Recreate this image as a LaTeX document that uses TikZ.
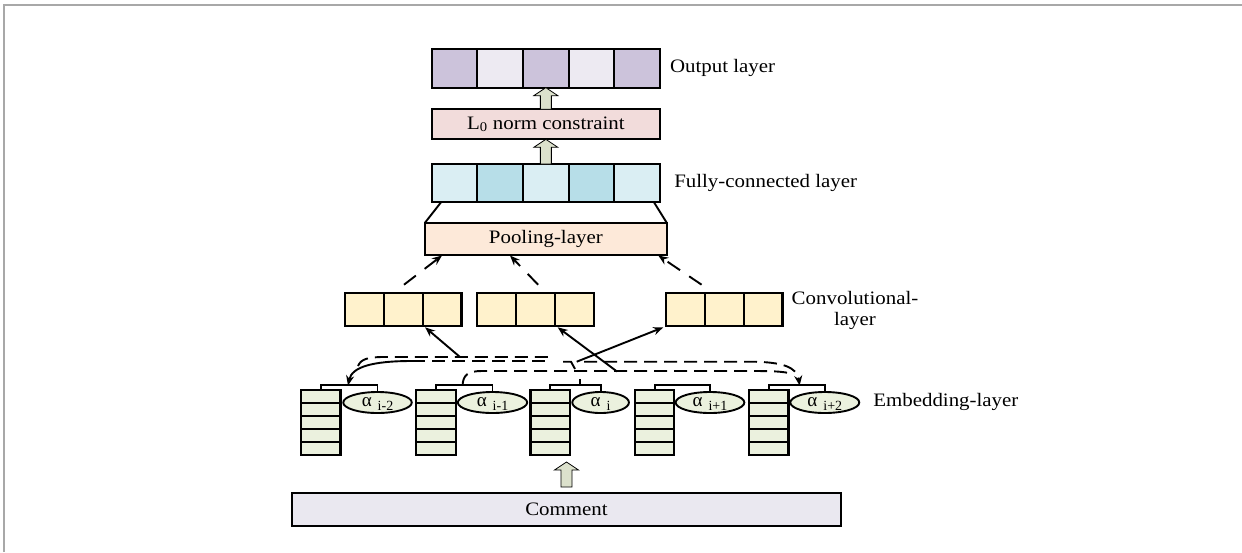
\documentclass[tikz,border=0pt]{standalone}
\usepackage{fontspec}
\setmainfont{Liberation Serif}
\usetikzlibrary{arrows.meta,calc,shapes.geometric}
\definecolor{outA}{HTML}{CCC3DB}
\definecolor{outB}{HTML}{EDEAF2}
\definecolor{lzero}{HTML}{F2DCDB}
\definecolor{fcA}{HTML}{DAEEF3}
\definecolor{fcB}{HTML}{B7DEE8}
\definecolor{poolc}{HTML}{FDE9D9}
\definecolor{convc}{HTML}{FFF2CC}
\definecolor{embc}{HTML}{EBF1DE}
\definecolor{harr}{HTML}{DCE1CC}
\definecolor{cmtc}{HTML}{EAE8F0}
\definecolor{framec}{HTML}{A8A8A8}
\newcommand{\sx}[1]{\scalebox{1.1}[1]{#1}}
\newcommand{\alab}[1]{{\fontsize{19}{19}\selectfont α}\hspace{6pt}\raisebox{-4pt}[0pt][0pt]{\fontsize{14}{14}\selectfont #1}}
\newcommand{\hollowarrow}[2]{%
  \draw[line width=0.8pt,fill=harr] let \p1=#1, \p2=#2 in
   (\x1-5.5pt,\y2) -- (\x1-5.5pt,\y1-8pt) -- (\x1-12pt,\y1-8pt) -- (\x1,\y1)
   -- (\x1+12pt,\y1-8pt) -- (\x1+5.5pt,\y1-8pt) -- (\x1+5.5pt,\y2) -- cycle;}
\begin{document}
\begin{tikzpicture}[x=1pt,y=-1pt,
  every node/.style={font=\fontsize{19}{21}\selectfont},
  box/.style={draw,line width=2.2pt,inner sep=0pt,outer sep=0pt},
  lbl/.style={inner sep=0pt,outer sep=0pt},
  ell/.style={draw,ellipse,line width=1.9pt,fill=embc,inner sep=0pt,minimum height=21pt,text height=7pt,text depth=0pt},
  con/.style={line width=1.9pt},
  dsh/.style={line width=1.9pt,dash pattern=on 13pt off 7pt},
  tip/.style={-{Stealth[length=10pt,width=8pt]}},
]
\useasboundingbox (0,0) rectangle (1242,552);
\draw[framec,line width=1.5pt] (4,552) -- (4,5) -- (1242,5);

% output layer
\foreach \k/\c in {1/outA,2/outB,3/outA,4/outB,5/outA}
  \node[box,fill=\c,minimum width=45.66pt,minimum height=38.7pt] (o\k) at ({431.7+45.66*(\k-0.5)},68.3) {};
\node[lbl,anchor=west] (olab) at (670,68.3) {\sx{Output layer}};

% L0
\node[box,fill=lzero,minimum width=228.3pt,minimum height=30pt] (lz) at (545.85,124.3) {\sx{L\textsubscript{0} norm constraint}};

% fully connected
\foreach \k/\c in {1/fcA,2/fcB,3/fcA,4/fcB,5/fcA}
  \node[box,fill=\c,minimum width=45.66pt,minimum height=38.3pt] (f\k) at ({431.7+45.66*(\k-0.5)},183.15) {};
\node[lbl,anchor=west] (flab) at (674.3,183.2) {\sx{Fully-connected layer}};

% pooling
\node[box,fill=poolc,minimum width=241.7pt,minimum height=32.3pt] (pl) at (545.85,238.85) {\sx{Pooling-layer}};
\draw[con] ($(f1.south west)+(9.3,0)$) -- (pl.north west);
\draw[con] ($(f5.south east)+(-6,0)$) -- (pl.north east);

% hollow arrows
\hollowarrow{(o3.south)}{(lz.north)}
\hollowarrow{(lz.south)}{(f3.north)}

% convolutional
\foreach \k in {1,2,3}{
  \node[box,fill=convc,minimum width=38.8pt,minimum height=33pt] (ca\k) at ({345+38.8*(\k-0.5)},309.2) {};
  \node[box,fill=convc,minimum width=38.8pt,minimum height=33pt] (cb\k) at ({477.3+38.8*(\k-0.5)},309.2) {};
  \node[box,fill=convc,minimum width=38.8pt,minimum height=33pt] (cc\k) at ({666+38.8*(\k-0.5)},309.2) {};
}
\node[lbl,align=center] (clab) at (855,310.5) {\sx{Convolutional-}\\\sx{layer}};

% dashed arrows conv -> pooling
\coordinate (d1s) at ($(ca2.north)+(0.8,-8)$);
\coordinate (d2s) at ($(cb2.north)+(2.6,-8)$);
\coordinate (d3s) at ($(cc2.north)+(-22.6,-8)$);
\coordinate (p1) at ($(pl.south west)+(17,0.5)$);
\coordinate (p2) at ($(pl.south west)+(85,0.5)$);
\coordinate (p3) at ($(pl.south east)+(-8.4,0.5)$);
\draw[con,tip,dash pattern=on 15pt off 11pt] (d1s) -- (p1);
\draw[con,tip,dash pattern=on 15pt off 11pt] (d2s) -- (p2);
\draw[con,tip,dash pattern=on 15pt off 11pt] (d3s) -- (p3);

% embedding stacks
\foreach \k/\x in {1/320.7,2/436,3/550.3,4/654.6,5/768.8}{
  \node[box,fill=embc,minimum width=39.5pt,minimum height=65pt] (s\k) at (\x,422.5) {};
  \foreach \j in {1,2,3,4}
    \draw[line width=2.2pt] ($(s\k.north west)!\j/5!(s\k.south west)$) -- ($(s\k.north east)!\j/5!(s\k.south east)$);
}
\node[ell,minimum width=68.5pt] (e1) at (377.5,402.5) {\alab{i-2}};
\node[ell,minimum width=69.4pt] (e2) at (492.5,402.5) {\alab{i-1}};
\node[ell,minimum width=56.7pt] (e3) at (600.6,402.5) {\alab{i}};
\node[ell,minimum width=68.8pt] (e4) at (710,402.5) {\alab{i+1}};
\node[ell,minimum width=69pt] (e5) at (824.8,402.5) {\alab{i+2}};
\foreach \k in {1,...,5}
  \draw[con] (s\k.north) -- ++(0,-5) -| (e\k.north);
\node[lbl,anchor=west] (elab) at (873.3,402) {\sx{Embedding-layer}};

% connectors among embeddings
\coordinate (u0) at (358,366);
\coordinate (u1) at (548,357);
\draw[dsh] (u0) .. controls (361,359) and (368,357) .. (384,357) -- (u1);
\coordinate (l0) at (412,361);
\coordinate (l1) at (550,361);
\coordinate (b1) at ($(s1.north)!0.48!(e1.north)+(0,-5)$);
\draw[con,tip] (l0) .. controls (372,361) and (352,367) .. (b1);
\draw[dsh] (l0) -- (l1);
\coordinate (z0) at (563,361.7);
\coordinate (z1) at (575,369);
\draw[con] (z0) -- (571,361.7) -- (z1);
\coordinate (r0) at (584,361.7);
\coordinate (b5) at ($(s5.north)!0.55!(e5.north)+(0,-5)$);
\draw[dsh,tip] (r0) -- (752,361.7) .. controls (782,362) and (797,367) .. (b5);
\coordinate (q0) at ($(s2.north)!0.47!(e2.north)+(0,-5)$);
\coordinate (q1) at (792,374);
\draw[dsh] (q0) .. controls (463,375) and (468,371) .. (482,371) -- (745,371) .. controls (768,371) and (784,371) .. (q1);
\draw[con] (580,385) -- (580,379);

% solid arrows to conv
\coordinate (sa) at (460,357);
\coordinate (sb) at (617,371.5);
\coordinate (sc) at (576.7,361.7);
\draw[con,tip] (sa) -- ($(ca3.south west)+(2.5,1.6)$);
\draw[con,tip] (sb) -- ($(cb3.south west)+(2.8,1.6)$);
\draw[con,tip] (sc) -- ($(cc1.south west)+(-2.7,1.6)$);

% comment
\node[box,fill=cmtc,minimum width=549pt,minimum height=33pt] (cm) at (566.5,509.5) {\sx{Comment}};
\coordinate (ct) at (566.5,462);
\coordinate (cbse) at (566.5,487);
\hollowarrow{(ct)}{(cbse)}
\end{tikzpicture}
\end{document}
